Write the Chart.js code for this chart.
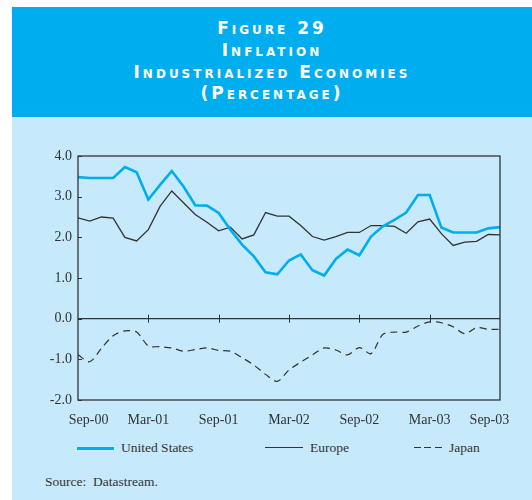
<!DOCTYPE html>
<html>
<head>
<meta charset="utf-8">
<script src="https://cdn.jsdelivr.net/npm/chart.js@4.4.0/dist/chart.umd.min.js"></script>
<style>
    body { margin: 0; background: #fff; width: 532px; height: 500px; position: relative; overflow: hidden; font-family: "Liberation Serif", "Times New Roman", serif; }
    #header { position: absolute; left: 12px; top: 7px; width: 520px; height: 110px; background: #00aeef; color: #fff; text-align: center;
              font-family: "DejaVu Sans", sans-serif; font-weight: bold; font-variant: small-caps; letter-spacing: 3px; font-size: 17px; }
    #header div { position: absolute; left: 0; width: 100%; line-height: 20px; }
    #panel { position: absolute; left: 12px; top: 117px; width: 520px; height: 383px; background: #c6e9fb; }
    #chartBox { position: absolute; left: 12px; top: 120px; width: 520px; height: 310px; }
    .leg { position: absolute; top: 439px; height: 18px; font-size: 13.5px; color: #333; line-height: 18px; }
    .leg .ln { position: absolute; left: 0; top: 8px; height: 2px; }
    .leg .tx { position: absolute; white-space: nowrap; }
    #source { position: absolute; left: 45px; top: 474px; font-size: 13.5px; color: #333; }
</style>
</head>
<body>
<div id="header">
    <div style="top:11px">Figure 29</div>
    <div style="top:33px">Inflation</div>
    <div style="top:55px">Industrialized Economies</div>
    <div style="top:76px">(Percentage)</div>
</div>
<div id="panel"></div>
<div id="chartBox"><canvas id="inflationChart"></canvas></div>
<div id="legend"></div>
<div id="source">Source:&nbsp; Datastream.</div>

<script>
// Meses: Sep-00 ... Sep-03 (indice 0..36)
const months = ['Sep-00','Oct-00','Nov-00','Dec-00','Jan-01','Feb-01','Mar-01','Apr-01','May-01','Jun-01','Jul-01','Aug-01',
                'Sep-01','Oct-01','Nov-01','Dec-01','Jan-02','Feb-02','Mar-02','Apr-02','May-02','Jun-02','Jul-02','Aug-02',
                'Sep-02','Oct-02','Nov-02','Dec-02','Jan-03','Feb-03','Mar-03','Apr-03','May-03','Jun-03','Jul-03','Aug-03','Sep-03'];
const tickLabels = ['Sep-00', 'Mar-01', 'Sep-01', 'Mar-02', 'Sep-02', 'Mar-03', 'Sep-03'];
const yTicks = [4, 3, 2, 1, 0, -1, -2];

const unitedStates = [3.48, 3.46, 3.46, 3.46, 3.73, 3.60, 2.93, 3.29, 3.63, 3.25, 2.79, 2.78,
                      2.60, 2.19, 1.82, 1.53, 1.14, 1.09, 1.43, 1.58, 1.19, 1.06, 1.47, 1.70,
                      1.56, 2.02, 2.27, 2.43, 2.61, 3.04, 3.04, 2.24, 2.12, 2.12, 2.12, 2.22, 2.25];
const europe = [2.48, 2.40, 2.50, 2.47, 2.00, 1.91, 2.19, 2.76, 3.14, 2.85, 2.56, 2.37,
                2.16, 2.25, 1.96, 2.06, 2.61, 2.52, 2.52, 2.29, 2.02, 1.93, 2.02, 2.12,
                2.12, 2.29, 2.29, 2.27, 2.10, 2.38, 2.45, 2.09, 1.80, 1.88, 1.90, 2.07, 2.06];
const japan = [-0.89, -1.06, -0.73, -0.42, -0.30, -0.33, -0.67, -0.69, -0.72, -0.80, -0.76, -0.72,
               -0.78, -0.80, -0.96, -1.14, -1.37, -1.54, -1.26, -1.07, -0.89, -0.72, -0.77, -0.89,
               -0.71, -0.86, -0.39, -0.33, -0.33, -0.18, -0.08, -0.10, -0.20, -0.37, -0.22, -0.26, -0.26];

const toPoints = arr => arr.map((v, i) => ({ x: i, y: v }));
const tickMonths = tickLabels.map(l => months.indexOf(l));

// Moldura, marcas internas do eixo y e marcas na linha zero
const framePlugin = {
    id: 'frame',
    afterDatasetsDraw(chart) {
        const { ctx, chartArea: { left, right, top, bottom }, scales: { x, y } } = chart;
        ctx.save();
        ctx.strokeStyle = '#333';
        ctx.lineWidth = 1.3;
        ctx.strokeRect(left, top, right - left, bottom - top);
        ctx.lineWidth = 1;
        yTicks.forEach(v => {
            const py = Math.round(y.getPixelForValue(v)) + 0.5;
            ctx.beginPath(); ctx.moveTo(left, py); ctx.lineTo(left + 4, py); ctx.stroke();
        });
        const y0 = y.getPixelForValue(0);
        tickMonths.slice(1, -1).forEach(m => {
            const px = Math.round(x.getPixelForValue(m)) + 0.5;
            ctx.beginPath(); ctx.moveTo(px, y0 - 4); ctx.lineTo(px, y0 + 4); ctx.stroke();
        });
        ctx.restore();
    }
};

const chart = new Chart(document.getElementById('inflationChart'), {
    type: 'line',
    data: {
        datasets: [
            { label: 'United States', data: toPoints(unitedStates), borderColor: '#00aeef', borderWidth: 2.6, tension: 0 },
            { label: 'Europe', data: toPoints(europe), borderColor: '#333', borderWidth: 1.3, tension: 0 },
            { label: 'Japan', data: toPoints(japan), borderColor: '#333', borderWidth: 1.2, borderDash: [7, 5], tension: 0.3 }
        ]
    },
    options: {
        responsive: true,
        maintainAspectRatio: false,
        animation: false,
        events: [],
        elements: { point: { radius: 0 } },
        layout: { padding: { left: 0, right: 32, top: 36, bottom: 0 } },
        plugins: { legend: { display: false }, tooltip: { enabled: false } },
        scales: {
            x: {
                type: 'linear', min: 0, max: months.length - 1,
                grid: { display: false },
                border: { display: false },
                afterBuildTicks(scale) {
                    // rótulos das pontas deslocados para dentro, como no original
                    scale.ticks = tickMonths.map((m, i) => ({
                        value: i === 0 ? m + 0.9 : (i === tickMonths.length - 1 ? m - 0.9 : m),
                        label: tickLabels[i]
                    }));
                },
                afterFit(scale) { scale.height = 30; },
                ticks: {
                    maxRotation: 0, autoSkip: false, padding: 4, color: '#333',
                    font: { family: 'Liberation Serif', size: 14 },
                    callback(value, index) { return tickLabels[index]; }
                }
            },
            y: {
                min: -2, max: 4,
                afterBuildTicks(scale) { scale.ticks = yTicks.map(v => ({ value: v })); },
                afterFit(scale) { scale.width = 66; },
                grid: {
                    drawTicks: false,
                    color: c => (c.tick && c.tick.value === 0) ? '#333' : 'rgba(0,0,0,0)',
                    lineWidth: 1.2
                },
                border: { display: false },
                ticks: {
                    padding: 6, color: '#333',
                    font: { family: 'Liberation Serif', size: 14 },
                    callback: v => v.toFixed(1)
                }
            }
        }
    },
    plugins: [framePlugin]
});

// Legenda em HTML, a partir dos datasets
const legendX = [77, 265, 414];
const legendLen = [37, 38, 28];
chart.data.datasets.forEach((ds, i) => {
    const item = document.createElement('div');
    item.className = 'leg';
    item.style.left = legendX[i] + 'px';
    const ln = document.createElement('div');
    ln.className = 'ln';
    ln.style.width = legendLen[i] + 'px';
    if (ds.borderDash) {
        ln.style.height = '1.3px';
        ln.style.background = `repeating-linear-gradient(to right, ${ds.borderColor} 0 7px, transparent 7px 10.5px)`;
    } else {
        ln.style.height = ds.borderWidth > 2 ? '2.5px' : '1.3px';
        ln.style.background = ds.borderColor;
    }
    const tx = document.createElement('span');
    tx.className = 'tx';
    tx.style.left = (legendLen[i] + 7) + 'px';
    tx.style.top = '0px';
    tx.textContent = ds.label;
    item.appendChild(ln);
    item.appendChild(tx);
    document.body.appendChild(item);
});
</script>
</body>
</html>
